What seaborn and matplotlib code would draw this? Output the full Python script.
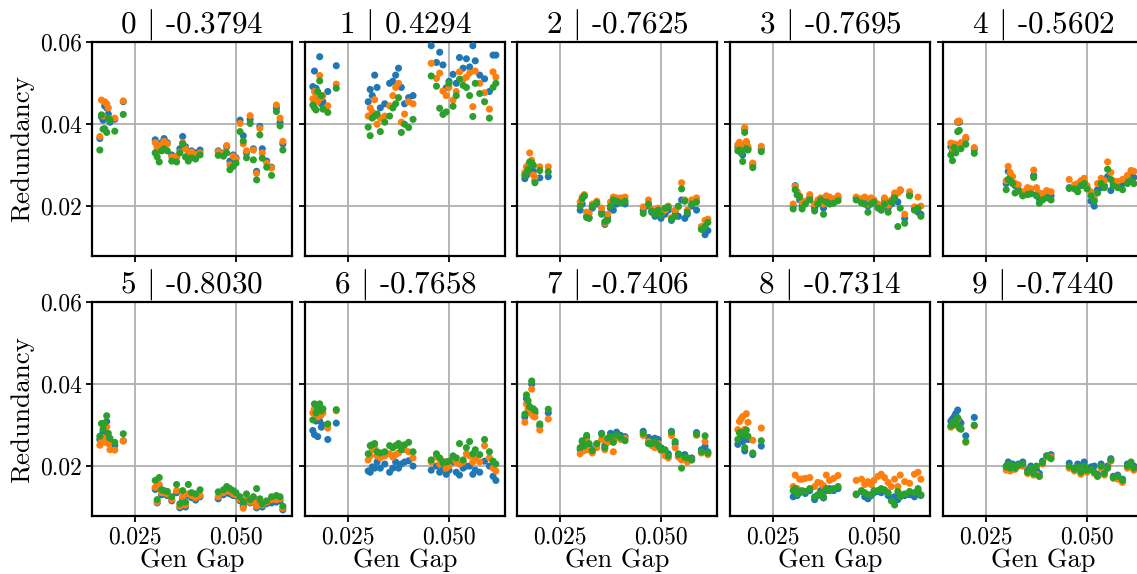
import numpy as np
import pandas as pd
import seaborn as sns
import matplotlib
matplotlib.use("Agg")
import matplotlib.pyplot as plt
from matplotlib.ticker import FormatStrFormatter

plt.rcParams['font.family'] = 'serif'
plt.rcParams['font.serif'] = ['cmr10']
plt.rcParams['mathtext.fontset'] = 'cm'
plt.rcParams['axes.formatter.use_mathtext'] = True
plt.rcParams['axes.unicode_minus'] = False

# shared generalisation-gap values (x)
gen_gap = [0.0163, 0.0167, 0.0171, 0.0175, 0.0180, 0.0184, 0.0188, 0.0200, 0.0221,
           0.0300, 0.0305, 0.0310, 0.0316, 0.0322, 0.0330, 0.0341, 0.0353, 0.0361,
           0.0368, 0.0375, 0.0382, 0.0390, 0.0400, 0.0411,
           0.0456, 0.0469, 0.0477, 0.0485, 0.0493, 0.0500, 0.0510, 0.0518, 0.0526,
           0.0535, 0.0543, 0.0551, 0.0559, 0.0565, 0.0576, 0.0588, 0.0600, 0.0609, 0.0616]

panel_ids = [0, 1, 2, 3, 4, 5, 6, 7, 8, 9]
panel_corr = ["-0.3794", "0.4294", "-0.7625", "-0.7695", "-0.5602",
              "-0.8030", "-0.7658", "-0.7406", "-0.7314", "-0.7440"]
series_names = ["s0", "s1", "s2"]

# redundancy values per panel: [blue, orange, green]
red_0 = [
 [.0365,.0418,.0410,.0445,.0440,.0425,.0405,.0412,.0455,
  .0362,.0345,.0338,.0355,.0365,.0355,.0325,.0320,.0340,.0370,.0345,.0328,.0335,.0330,.0337,
  .0335,.0330,.0345,.0310,.0325,.0318,.0410,.0372,.0330,.0412,.0340,.0285,.0395,.0340,.0310,.0295,.0440,.0405,.0352],
 [.0370,.0459,.0420,.0455,.0450,.0440,.0412,.0415,.0457,
  .0355,.0340,.0335,.0350,.0358,.0352,.0320,.0322,.0332,.0355,.0340,.0330,.0332,.0325,.0330,
  .0333,.0328,.0348,.0301,.0322,.0315,.0402,.0352,.0335,.0421,.0337,.0280,.0390,.0330,.0305,.0293,.0447,.0415,.0358],
 [.0337,.0423,.0388,.0389,.0380,.0415,.0410,.0383,.0424,
  .0330,.0320,.0308,.0335,.0340,.0335,.0310,.0308,.0330,.0352,.0320,.0310,.0318,.0315,.0325,
  .0324,.0322,.0330,.0289,.0297,.0305,.0382,.0359,.0318,.0402,.0313,.0264,.0374,.0317,.0295,.0275,.0431,.0396,.0337]]
red_1 = [
 [.0492,.0530,.0488,.0470,.0565,.0450,.0455,.0480,.0543,
  .0455,.0485,.0470,.0520,.0490,.0440,.0450,.0500,.0505,.0520,.0537,.0490,.0450,.0465,.0470,
  .0592,.0551,.0576,.0545,.0489,.0505,.0522,.0500,.0563,.0537,.0560,.0540,.0592,.0555,.0520,.0511,.0480,.0569,.0569],
 [.0462,.0480,.0472,.0455,.0519,.0465,.0470,.0445,.0498,
  .0420,.0440,.0430,.0460,.0400,.0415,.0420,.0445,.0470,.0490,.0500,.0405,.0425,.0455,.0450,
  .0549,.0512,.0525,.0481,.0470,.0490,.0459,.0480,.0528,.0510,.0515,.0525,.0443,.0530,.0500,.0477,.0437,.0528,.0515],
 [.0447,.0440,.0435,.0480,.0506,.0470,.0437,.0429,.0488,
  .0393,.0372,.0415,.0420,.0425,.0382,.0405,.0420,.0440,.0450,.0465,.0380,.0400,.0392,.0412,
  .0518,.0493,.0439,.0424,.0430,.0500,.0444,.0470,.0510,.0495,.0490,.0470,.0419,.0500,.0475,.0455,.0415,.0490,.0500]]
red_2 = [
 [.0267,.0275,.0283,.0300,.0290,.0285,.0262,.0269,.0272,
  .0190,.0205,.0225,.0175,.0172,.0195,.0205,.0185,.0155,.0172,.0195,.0190,.0205,.0210,.0205,
  .0190,.0200,.0185,.0175,.0178,.0170,.0180,.0190,.0165,.0185,.0175,.0215,.0170,.0180,.0200,.0190,.0145,.0130,.0140],
 [.0282,.0296,.0300,.0330,.0312,.0276,.0270,.0296,.0296,
  .0210,.0222,.0228,.0185,.0182,.0205,.0212,.0195,.0158,.0180,.0210,.0222,.0220,.0220,.0222,
  .0198,.0215,.0192,.0185,.0195,.0180,.0190,.0200,.0172,.0190,.0198,.0257,.0215,.0190,.0215,.0220,.0150,.0165,.0168],
 [.0275,.0280,.0290,.0308,.0305,.0300,.0257,.0287,.0284,
  .0200,.0218,.0225,.0172,.0170,.0200,.0208,.0180,.0162,.0165,.0200,.0215,.0212,.0208,.0212,
  .0182,.0205,.0188,.0180,.0190,.0178,.0195,.0197,.0168,.0175,.0200,.0242,.0212,.0185,.0205,.0210,.0143,.0150,.0160]]
red_3 = [
 [.0345,.0350,.0340,.0325,.0388,.0355,.0340,.0302,.0340,
  .0200,.0250,.0228,.0215,.0200,.0210,.0222,.0195,.0210,.0210,.0195,.0222,.0215,.0210,.0220,
  .0220,.0210,.0220,.0200,.0210,.0208,.0200,.0190,.0215,.0195,.0205,.0225,.0210,.0238,.0170,.0228,.0195,.0185,.0180],
 [.0350,.0356,.0348,.0340,.0392,.0358,.0345,.0305,.0346,
  .0205,.0248,.0235,.0225,.0210,.0212,.0228,.0205,.0215,.0220,.0205,.0225,.0222,.0218,.0225,
  .0222,.0218,.0222,.0205,.0220,.0215,.0205,.0198,.0220,.0202,.0215,.0232,.0232,.0240,.0180,.0235,.0198,.0222,.0200],
 [.0335,.0337,.0330,.0309,.0380,.0340,.0337,.0294,.0333,
  .0193,.0240,.0227,.0222,.0193,.0205,.0215,.0188,.0205,.0215,.0180,.0210,.0205,.0207,.0213,
  .0215,.0208,.0205,.0185,.0205,.0210,.0195,.0192,.0205,.0185,.0210,.0220,.0150,.0195,.0158,.0225,.0190,.0195,.0175]]
red_4 = [
 [.0345,.0335,.0348,.0350,.0405,.0405,.0350,.0365,.0338,
  .0255,.0285,.0270,.0258,.0250,.0240,.0228,.0238,.0232,.0275,.0228,.0218,.0225,.0222,.0225,
  .0245,.0245,.0248,.0250,.0258,.0245,.0212,.0200,.0240,.0245,.0250,.0272,.0238,.0255,.0248,.0255,.0265,.0275,.0270],
 [.0354,.0340,.0352,.0345,.0407,.0408,.0355,.0368,.0343,
  .0262,.0297,.0282,.0272,.0255,.0252,.0235,.0245,.0242,.0288,.0245,.0232,.0230,.0238,.0235,
  .0265,.0252,.0255,.0262,.0268,.0250,.0235,.0218,.0255,.0268,.0262,.0308,.0282,.0262,.0260,.0265,.0275,.0287,.0285],
 [.0325,.0311,.0343,.0330,.0382,.0385,.0340,.0351,.0329,
  .0240,.0265,.0262,.0255,.0232,.0237,.0225,.0228,.0230,.0270,.0225,.0207,.0215,.0220,.0215,
  .0243,.0242,.0235,.0250,.0255,.0242,.0225,.0212,.0232,.0255,.0245,.0290,.0265,.0250,.0245,.0240,.0255,.0262,.0255]]
red_5 = [
 [.0265,.0275,.0285,.0270,.0309,.0270,.0262,.0250,.0262,
  .0143,.0110,.0150,.0130,.0132,.0128,.0115,.0135,.0098,.0120,.0100,.0128,.0123,.0117,.0125,
  .0120,.0130,.0135,.0132,.0128,.0127,.0115,.0102,.0115,.0110,.0112,.0098,.0115,.0100,.0108,.0110,.0112,.0115,.0093],
 [.0251,.0262,.0270,.0258,.0296,.0255,.0240,.0239,.0261,
  .0148,.0112,.0155,.0135,.0135,.0132,.0118,.0140,.0102,.0125,.0105,.0132,.0128,.0122,.0128,
  .0125,.0135,.0140,.0138,.0132,.0130,.0118,.0097,.0118,.0112,.0115,.0102,.0118,.0105,.0112,.0118,.0118,.0120,.0097],
 [.0273,.0304,.0290,.0305,.0323,.0280,.0268,.0258,.0279,
  .0165,.0118,.0172,.0142,.0140,.0138,.0125,.0155,.0108,.0140,.0112,.0155,.0135,.0132,.0142,
  .0137,.0142,.0150,.0145,.0140,.0135,.0125,.0113,.0132,.0118,.0125,.0145,.0120,.0108,.0115,.0125,.0128,.0125,.0102]]
red_6 = [
 [.0287,.0277,.0310,.0272,.0310,.0295,.0300,.0265,.0305,
  .0188,.0185,.0198,.0195,.0210,.0195,.0205,.0185,.0195,.0210,.0195,.0205,.0210,.0213,.0200,
  .0190,.0200,.0185,.0195,.0180,.0190,.0210,.0185,.0178,.0195,.0200,.0200,.0180,.0190,.0185,.0212,.0200,.0175,.0165],
 [.0330,.0340,.0335,.0320,.0330,.0325,.0330,.0293,.0335,
  .0215,.0225,.0240,.0245,.0225,.0220,.0225,.0230,.0222,.0228,.0232,.0245,.0240,.0235,.0220,
  .0210,.0222,.0205,.0212,.0195,.0200,.0218,.0210,.0205,.0210,.0230,.0225,.0210,.0220,.0210,.0250,.0220,.0195,.0188],
 [.0313,.0352,.0330,.0340,.0352,.0335,.0340,.0303,.0338,
  .0230,.0250,.0252,.0255,.0235,.0232,.0235,.0250,.0245,.0250,.0255,.0240,.0252,.0258,.0235,
  .0215,.0230,.0220,.0208,.0210,.0212,.0225,.0220,.0255,.0215,.0245,.0260,.0230,.0240,.0228,.0265,.0235,.0212,.0205]]
red_7 = [
 [.0320,.0365,.0350,.0340,.0400,.0335,.0330,.0298,.0330,
  .0240,.0260,.0248,.0270,.0250,.0240,.0253,.0280,.0250,.0265,.0280,.0260,.0283,.0275,.0272,
  .0285,.0270,.0265,.0268,.0265,.0245,.0235,.0230,.0285,.0255,.0230,.0225,.0228,.0215,.0220,.0282,.0240,.0248,.0235],
 [.0307,.0352,.0340,.0330,.0388,.0322,.0320,.0288,.0315,
  .0230,.0250,.0238,.0262,.0240,.0232,.0245,.0265,.0240,.0258,.0268,.0235,.0270,.0265,.0268,
  .0275,.0260,.0250,.0245,.0255,.0238,.0225,.0220,.0275,.0245,.0222,.0215,.0220,.0210,.0215,.0275,.0232,.0260,.0228],
 [.0327,.0374,.0360,.0345,.0408,.0340,.0336,.0303,.0339,
  .0245,.0262,.0250,.0275,.0255,.0238,.0255,.0278,.0245,.0268,.0272,.0258,.0275,.0270,.0262,
  .0280,.0255,.0255,.0260,.0250,.0240,.0240,.0225,.0283,.0260,.0228,.0195,.0222,.0220,.0215,.0278,.0235,.0274,.0232]]
red_8 = [
 [.0253,.0265,.0270,.0260,.0237,.0275,.0265,.0228,.0249,
  .0125,.0130,.0128,.0135,.0138,.0133,.0140,.0118,.0128,.0140,.0122,.0140,.0145,.0140,.0145,
  .0130,.0138,.0125,.0120,.0128,.0135,.0138,.0135,.0140,.0128,.0120,.0125,.0118,.0130,.0128,.0130,.0125,.0140,.0128],
 [.0289,.0309,.0315,.0321,.0290,.0328,.0307,.0263,.0293,
  .0150,.0178,.0145,.0168,.0168,.0170,.0172,.0150,.0160,.0158,.0152,.0178,.0165,.0170,.0177,
  .0165,.0168,.0155,.0162,.0155,.0165,.0175,.0180,.0172,.0160,.0150,.0168,.0150,.0178,.0162,.0158,.0180,.0185,.0168],
 [.0265,.0281,.0283,.0278,.0245,.0288,.0273,.0232,.0262,
  .0140,.0145,.0132,.0138,.0140,.0138,.0145,.0125,.0130,.0135,.0125,.0145,.0140,.0145,.0150,
  .0132,.0140,.0135,.0130,.0130,.0140,.0140,.0145,.0142,.0135,.0115,.0105,.0138,.0125,.0132,.0138,.0135,.0145,.0130]]
red_9 = [
 [.0310,.0315,.0320,.0328,.0337,.0310,.0305,.0274,.0319,
  .0200,.0210,.0195,.0205,.0198,.0205,.0210,.0190,.0200,.0185,.0190,.0182,.0212,.0225,.0228,
  .0207,.0195,.0205,.0188,.0210,.0195,.0198,.0200,.0180,.0205,.0185,.0200,.0218,.0175,.0178,.0168,.0205,.0205,.0200],
 [.0295,.0305,.0300,.0308,.0315,.0292,.0292,.0258,.0298,
  .0190,.0200,.0188,.0198,.0192,.0200,.0200,.0182,.0190,.0178,.0180,.0175,.0205,.0222,.0222,
  .0195,.0188,.0195,.0180,.0198,.0185,.0190,.0182,.0175,.0195,.0178,.0195,.0212,.0170,.0168,.0160,.0195,.0198,.0190],
 [.0298,.0305,.0302,.0310,.0318,.0295,.0290,.0260,.0300,
  .0198,.0205,.0195,.0200,.0195,.0202,.0205,.0185,.0195,.0182,.0200,.0175,.0208,.0225,.0218,
  .0200,.0192,.0198,.0185,.0200,.0190,.0192,.0185,.0175,.0200,.0182,.0195,.0215,.0172,.0175,.0165,.0200,.0210,.0195]]
redundancy = [red_0, red_1, red_2, red_3, red_4, red_5, red_6, red_7, red_8, red_9]

W, H = 1137, 574
fig = plt.figure(figsize=(W / 100, H / 100), dpi=100)
palette = ["#1f77b4", "#ff7f0e", "#2ca02c"]

lefts = [92, 305, 517, 730, 943]
tops = [42, 302]
aw, ah = 200, 214

for k, pid in enumerate(panel_ids):
    r, c = divmod(k, 5)
    l = lefts[c]
    t = tops[r]
    ax = fig.add_axes([l / W, 1 - (t + ah) / H, aw / W, ah / H])
    rows = []
    for s, name in enumerate(series_names):
        for xv, yv in zip(gen_gap, redundancy[k][s]):
            rows.append((xv, yv, name))
    df = pd.DataFrame(rows, columns=["gap", "red", "series"])
    ax.grid(True, color="#b0b0b0", linewidth=1.3)
    ax.set_axisbelow(True)
    sns.scatterplot(data=df, x="gap", y="red", hue="series", hue_order=series_names,
                    palette=palette, s=26, linewidth=0, legend=False, ax=ax, zorder=3)
    ax.set_xlim(0.01436, 0.06386)
    ax.set_ylim(0.0078, 0.0601)
    ax.set_xticks([0.025, 0.050])
    ax.set_yticks([0.02, 0.04, 0.06])
    ax.xaxis.set_major_formatter(FormatStrFormatter("%.3f"))
    ax.yaxis.set_major_formatter(FormatStrFormatter("%.2f"))
    ax.tick_params(axis="both", labelsize=17, length=4, width=1.3, color="black")
    for sp in ax.spines.values():
        sp.set_linewidth(1.6)
        sp.set_color("black")
    if c != 0:
        ax.tick_params(axis="y", labelleft=False)
        ax.set_ylabel("")
    else:
        ax.set_ylabel("Redundancy", fontsize=19.5)
    if r == 0:
        ax.tick_params(axis="x", labelbottom=False)
        ax.set_xlabel("")
    else:
        ax.set_xlabel("Gen Gap", fontsize=19, labelpad=0)
    ax.set_title(f"{pid} $|$ {panel_corr[k]}", fontsize=22.5, pad=5)

fig.savefig("out.png", dpi=100)
